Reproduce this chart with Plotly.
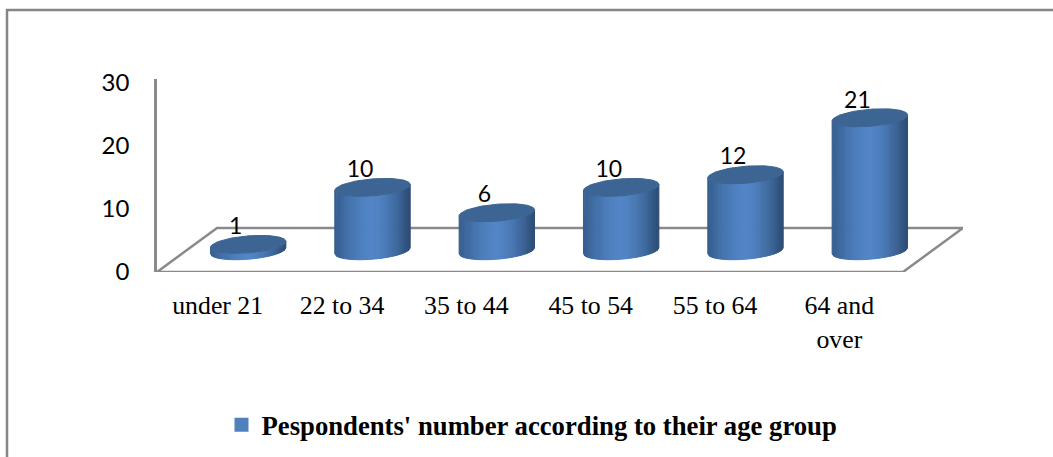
import numpy as np
import plotly.graph_objects as go

categories = ["under 21", "22 to 34", "35 to 44", "45 to 54", "55 to 64", "64 and<br>over"]
values = [1, 10, 6, 10, 12, 21]
series_name = "Pespondents' number according to their age group"
y_ticks = [0, 10, 20, 30]

W, H = 1053, 457
L, R, T, B = 157, 963, 79, 272
PX_X = 746 / 6          # pixels per category
PX_Y = 6.33             # pixels per unit
DEPTH_X, DEPTH_Y = 60 / PX_X, 44 / PX_Y
x_range = [-0.5, 5.5 + DEPTH_X]
y_range = [0, (B - T) / PX_Y]
RAD = 37.7 / PX_X
EB, ET = 8.5 / PX_Y, 3 / PX_Y   # ellipse half-height and tilt
BASE_X, BASE_Y = DEPTH_X / 2 - 1 / PX_X, DEPTH_Y / 2 - 0.7 / PX_Y


def shade(u):
    c, e_l, e_r = (82, 133, 198), (52, 92, 140), (44, 76, 115)
    e = e_l if u < 0 else e_r
    t = min(abs(u) ** 1.6, 1)
    return "rgb(%d,%d,%d)" % tuple(round(c[k] + (e[k] - c[k]) * t) for k in range(3))


fig = go.Figure()

# floor
fx = [-0.5, 5.5, 5.5 + DEPTH_X, -0.5 + DEPTH_X, -0.5]
fy = [0, 0, DEPTH_Y, DEPTH_Y, 0]
fig.add_trace(go.Scatter(x=fx, y=fy, mode="lines", line=dict(color="#8a8a8a", width=2.5),
                         showlegend=False, hoverinfo="skip", cliponaxis=False))

# cylinder bodies, one trace per shading band
edges = np.linspace(-1, 1, 41)
for a, b in zip(edges[:-1], edges[1:]):
    xs, ys = [], []
    for i, v in enumerate(values):
        cx = i + BASE_X
        top = v + BASE_Y
        us = np.linspace(a, b, 4)
        low = [BASE_Y + ET * u - EB * np.sqrt(max(0, 1 - u * u)) for u in us]
        up = [top + ET * u - EB * np.sqrt(max(0, 1 - u * u)) for u in us]
        xs += [cx + RAD * u for u in us] + [cx + RAD * u for u in us[::-1]] + [cx + RAD * a, None]
        ys += low + up[::-1] + [low[0], None]
    col = shade((a + b) / 2)
    fig.add_trace(go.Scatter(x=xs, y=ys, mode="lines", fill="toself", fillcolor=col,
                             line=dict(color=col, width=1), showlegend=False,
                             hoverinfo="skip", cliponaxis=False))

# cylinder tops
th = np.linspace(0, 2 * np.pi, 90)
xs, ys = [], []
for i, v in enumerate(values):
    xs += list(i + BASE_X + RAD * np.cos(th)) + [None]
    ys += list(v + BASE_Y + EB * np.sin(th) + ET * np.cos(th)) + [None]
fig.add_trace(go.Scatter(x=xs, y=ys, mode="lines", fill="toself", fillcolor="#3c6593",
                         line=dict(color="#3c6593", width=1), showlegend=False,
                         hoverinfo="skip", cliponaxis=False))

# data labels
fig.add_trace(go.Scatter(x=[i + BASE_X - 0.1 for i in range(len(values))],
                         y=[v + BASE_Y + 16 / PX_Y for v in values],
                         text=[str(v) for v in values], mode="text", textposition="middle center",
                         textfont=dict(family="Lato", size=23, color="#000000"),
                         showlegend=False, hoverinfo="skip", cliponaxis=False))

# legend entry
fig.add_trace(go.Scatter(x=[None], y=[None], mode="markers", name=series_name,
                         marker=dict(symbol="square", size=14, color="#4F81BD")))

fig.update_layout(
    width=W, height=H, margin=dict(l=L, r=W - R, t=T, b=H - B, autoexpand=False),
    paper_bgcolor="white", plot_bgcolor="rgba(0,0,0,0)",
    xaxis=dict(range=x_range, tickmode="array", tickvals=[i - 0.012 for i in range(6)], ticktext=categories,
               showgrid=False, zeroline=False, showline=False, ticks="outside", ticklen=10,
               tickcolor="rgba(0,0,0,0)",
               tickfont=dict(family="Liberation Serif", size=25.8, color="#000000")),
    yaxis=dict(range=y_range, tickmode="array", tickvals=y_ticks, showgrid=False, zeroline=False,
               showline=True, linecolor="#8a8a8a", linewidth=2.5, ticks="outside", ticklen=20,
               tickcolor="rgba(0,0,0,0)",
               tickfont=dict(family="Lato", size=24, color="#000000")),
    legend=dict(orientation="h", x=(532 - L) / (R - L), xanchor="center", y=(B - 425) / (B - T),
                yanchor="middle", font=dict(family="Liberation Serif", size=26.7, color="#000000", weight="bold"),
                bgcolor="rgba(0,0,0,0)"),
    shapes=[dict(type="rect", xref="paper", yref="paper",
                 x0=(7 - L) / (R - L), x1=(1070 - L) / (R - L),
                 y0=(B - 480) / (B - T), y1=(B - 10) / (B - T),
                 line=dict(color="#868686", width=2.5), layer="below")],
)
fig.write_html("out.html", config={"displayModeBar": False},
               post_script="document.body.style.margin='0';document.documentElement.style.overflow='hidden';")
